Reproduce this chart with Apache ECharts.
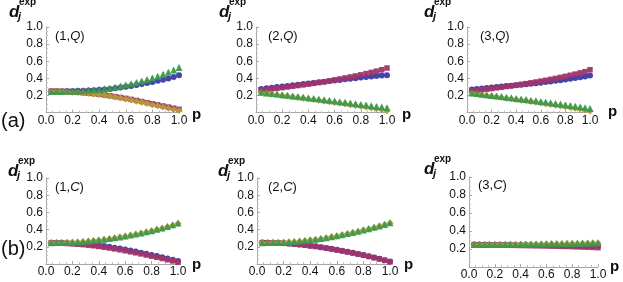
<!DOCTYPE html>
<html><head><meta charset="utf-8">
<script src="https://cdn.jsdelivr.net/npm/echarts@6/dist/echarts.min.js"></script>
<style>html,body{margin:0;padding:0;background:#fff}#c{width:623px;height:282px}</style>
</head><body><div id="c"></div>
<script>
// ---------- data ----------
const pValues = [0.04,0.08,0.12,0.16,0.20,0.24,0.28,0.32,0.36,0.40,0.44,0.48,0.52,0.56,0.60,0.64,0.68,0.72,0.76,0.80,0.84,0.88,0.92,0.96,1.00];
const xTicks = ['0.0','0.2','0.4','0.6','0.8','1.0'];
const yTicks = ['','0.2','0.4','0.6','0.8','1.0'];
const panelNumbers = ['1','2','3','1','2','3'];
const panelKinds = ['Q','Q','Q','C','C','C'];
const rowLabels = ['(a)','(b)'];
const seriesNames = ['j=1','j=2','j=3','j=4'];

// (1,Q)
const blue1Q    = [0.250,0.250,0.250,0.251,0.252,0.253,0.255,0.258,0.261,0.265,0.270,0.276,0.283,0.291,0.300,0.310,0.321,0.332,0.344,0.357,0.370,0.384,0.399,0.416,0.435];
const magenta1Q = [0.250,0.249,0.247,0.244,0.240,0.236,0.231,0.226,0.220,0.213,0.205,0.196,0.186,0.176,0.165,0.153,0.141,0.128,0.115,0.102,0.089,0.076,0.063,0.050,0.038];
const gold1Q    = [0.248,0.247,0.245,0.242,0.238,0.234,0.229,0.223,0.217,0.210,0.201,0.192,0.182,0.171,0.159,0.146,0.133,0.120,0.106,0.092,0.078,0.064,0.050,0.036,0.022];
const green1Q   = [0.245,0.246,0.247,0.248,0.250,0.252,0.255,0.259,0.264,0.270,0.278,0.287,0.297,0.309,0.322,0.336,0.351,0.367,0.385,0.404,0.424,0.446,0.470,0.496,0.525];
// (2,Q)
const blue2Q    = [0.276,0.283,0.290,0.297,0.304,0.311,0.318,0.325,0.332,0.339,0.346,0.353,0.360,0.367,0.374,0.381,0.388,0.395,0.402,0.409,0.416,0.422,0.428,0.432,0.435];
const magenta2Q = [0.262,0.269,0.276,0.283,0.291,0.299,0.307,0.315,0.323,0.332,0.341,0.350,0.360,0.370,0.381,0.392,0.404,0.416,0.428,0.441,0.455,0.469,0.484,0.500,0.520];
const gold2Q    = [0.232,0.224,0.216,0.208,0.200,0.192,0.184,0.176,0.168,0.159,0.151,0.143,0.134,0.126,0.117,0.108,0.099,0.090,0.081,0.072,0.063,0.054,0.045,0.034,0.020];
const green2Q   = [0.236,0.229,0.222,0.215,0.208,0.201,0.194,0.187,0.180,0.172,0.165,0.158,0.150,0.143,0.135,0.127,0.119,0.111,0.103,0.095,0.087,0.079,0.071,0.063,0.055];
// (3,Q)
const blue3Q    = [0.270,0.276,0.281,0.287,0.292,0.298,0.303,0.309,0.314,0.320,0.325,0.331,0.337,0.343,0.349,0.356,0.363,0.370,0.378,0.386,0.394,0.403,0.412,0.422,0.432];
const magenta3Q = [0.252,0.259,0.266,0.273,0.280,0.288,0.296,0.304,0.312,0.320,0.329,0.338,0.347,0.357,0.367,0.377,0.388,0.399,0.411,0.423,0.436,0.449,0.463,0.478,0.500];
const gold3Q    = [0.224,0.216,0.208,0.200,0.192,0.184,0.176,0.168,0.160,0.152,0.144,0.136,0.128,0.120,0.112,0.103,0.094,0.085,0.076,0.067,0.058,0.049,0.040,0.030,0.018];
const green3Q   = [0.228,0.221,0.214,0.207,0.200,0.193,0.186,0.179,0.172,0.165,0.158,0.151,0.144,0.137,0.130,0.122,0.114,0.106,0.098,0.090,0.082,0.074,0.066,0.057,0.048];
// (1,C)
const blue1C    = [0.248,0.247,0.246,0.244,0.242,0.239,0.235,0.230,0.224,0.217,0.209,0.200,0.190,0.179,0.168,0.156,0.144,0.131,0.118,0.105,0.092,0.078,0.064,0.050,0.035];
const magenta1C = [0.245,0.243,0.241,0.238,0.234,0.230,0.225,0.219,0.212,0.204,0.195,0.186,0.176,0.165,0.154,0.142,0.130,0.117,0.104,0.091,0.078,0.064,0.050,0.036,0.020];
const gold1C    = [0.246,0.247,0.248,0.250,0.252,0.255,0.259,0.264,0.270,0.277,0.285,0.294,0.303,0.313,0.324,0.335,0.347,0.359,0.372,0.386,0.400,0.416,0.432,0.451,0.471];
const green1C   = [0.248,0.249,0.250,0.252,0.254,0.257,0.261,0.266,0.272,0.279,0.287,0.296,0.305,0.315,0.326,0.337,0.349,0.361,0.374,0.388,0.403,0.419,0.436,0.455,0.476];
// (2,C)
const blue2C    = [0.249,0.248,0.247,0.245,0.242,0.238,0.233,0.227,0.221,0.213,0.205,0.196,0.186,0.176,0.165,0.154,0.142,0.130,0.117,0.104,0.090,0.076,0.061,0.045,0.028];
const magenta2C = [0.248,0.247,0.246,0.244,0.241,0.237,0.232,0.226,0.219,0.211,0.203,0.194,0.184,0.174,0.163,0.152,0.140,0.128,0.115,0.102,0.088,0.074,0.059,0.043,0.025];
const gold2C    = [0.247,0.248,0.249,0.251,0.253,0.256,0.260,0.265,0.271,0.278,0.286,0.295,0.305,0.316,0.327,0.339,0.352,0.365,0.379,0.394,0.409,0.425,0.441,0.458,0.477];
const green2C   = [0.248,0.249,0.250,0.252,0.254,0.257,0.261,0.266,0.272,0.279,0.287,0.296,0.306,0.317,0.329,0.341,0.354,0.367,0.381,0.396,0.411,0.427,0.443,0.460,0.480];
// (3,C)
const blue3C    = [0.249,0.249,0.248,0.248,0.247,0.247,0.246,0.246,0.245,0.245,0.244,0.244,0.243,0.242,0.242,0.241,0.240,0.240,0.239,0.238,0.237,0.236,0.235,0.234,0.233];
const magenta3C = [0.248,0.247,0.246,0.245,0.244,0.243,0.242,0.241,0.240,0.239,0.238,0.237,0.236,0.235,0.234,0.232,0.231,0.229,0.228,0.226,0.224,0.222,0.220,0.218,0.215];
const gold3C    = [0.249,0.249,0.249,0.249,0.250,0.250,0.250,0.251,0.251,0.252,0.252,0.253,0.254,0.255,0.256,0.257,0.258,0.259,0.260,0.261,0.262,0.263,0.265,0.266,0.267];
const green3C   = [0.250,0.250,0.250,0.250,0.251,0.251,0.251,0.252,0.252,0.253,0.253,0.254,0.255,0.256,0.257,0.258,0.259,0.260,0.261,0.262,0.264,0.265,0.267,0.268,0.270];
// error bars of the green (j=4) series in the Q panels
const errGreen1Q = [0.004,0.004,0.005,0.005,0.006,0.006,0.007,0.008,0.008,0.009,0.010,0.010,0.011,0.012,0.012,0.013,0.014,0.014,0.015,0.016,0.016,0.017,0.018,0.018,0.019];
const errGreen2Q = [0.004,0.004,0.005,0.005,0.006,0.006,0.007,0.007,0.008,0.008,0.009,0.009,0.010,0.010,0.011,0.011,0.012,0.012,0.013,0.013,0.014,0.014,0.015,0.015,0.016];
const errGreen3Q = [0.004,0.004,0.005,0.005,0.006,0.006,0.007,0.007,0.008,0.008,0.009,0.009,0.010,0.010,0.011,0.011,0.012,0.012,0.013,0.013,0.014,0.014,0.015,0.015,0.016];

const panelData = [
  [blue1Q, magenta1Q, gold1Q, green1Q],
  [blue2Q, magenta2Q, gold2Q, green2Q],
  [blue3Q, magenta3Q, gold3Q, green3Q],
  [blue1C, magenta1C, gold1C, green1C],
  [blue2C, magenta2C, gold2C, green2C],
  [blue3C, magenta3C, gold3C, green3C]
];
const panelErrors = [errGreen1Q, errGreen2Q, errGreen3Q, null, null, null];

// ---------- layout & style ----------
// [x of p=0, x of p=1, y of d=0, y of d=1]
const boxes = [
  [46,179,112.5,27],[256,387,112.5,27],[467,590,112.5,27],
  [46,178,264,178],[257,390,264,178],[469,598,267,177]
];
const colors = ['#3a3aa4','#a0346c','#b89a38','#3c9a4b'];
const symbols = ['circle','rect','diamond','triangle'];
const sizes = [6,5.5,7,7];
const errColor = '#9fd3a9';
const axisGray = '#a8a8a8';
const FONT = '"Liberation Sans", Arial, sans-serif';

const grids=[], xAxes=[], yAxes=[], series=[], graphic=[];
boxes.forEach((b,i)=>{
  grids.push({left:b[0], top:b[3], width:b[1]-b[0], height:b[2]-b[3], containLabel:false});
  xAxes.push({type:'value', gridIndex:i, min:0, max:1, interval:0.2,
    axisLine:{show:true, onZero:false, lineStyle:{color:axisGray, width:1}},
    axisTick:{show:true, inside:true, length:3, lineStyle:{color:axisGray}},
    minorTick:{show:true, splitNumber:4, length:2, lineStyle:{color:'#c4c4c4'}},
    splitLine:{show:false},
    axisLabel:{margin:2, color:'#111', fontFamily:FONT, fontSize:12,
      formatter:v=>xTicks[Math.round(v/0.2)]}
  });
  yAxes.push({type:'value', gridIndex:i, min:0, max:1, interval:0.2,
    axisLine:{show:true, lineStyle:{color:axisGray, width:1}},
    axisTick:{show:true, inside:true, length:3, lineStyle:{color:axisGray}},
    minorTick:{show:true, splitNumber:4, length:2, lineStyle:{color:'#c4c4c4'}},
    splitLine:{show:false},
    axisLabel:{margin:3, color:'#111', fontFamily:FONT, fontSize:12,
      formatter:v=>yTicks[Math.round(v/0.2)]}
  });
  const data = panelData[i];
  for (let s=0;s<4;s++){
    if (s===3 && panelErrors[i]){
      const err = panelErrors[i];
      series.push({type:'custom', xAxisIndex:i, yAxisIndex:i, silent:true, z:2,
        data: pValues.map((p,k)=>[p, data[3][k], err[k]]),
        renderItem:(params, api)=>{
          const x=api.value(0), y=api.value(1), e=api.value(2);
          const t=api.coord([x,y+e]), bt=api.coord([x,y-e]);
          const st={stroke:errColor, lineWidth:1};
          return {type:'group', children:[
            {type:'line', shape:{x1:t[0],y1:t[1],x2:bt[0],y2:bt[1]}, style:st},
            {type:'line', shape:{x1:t[0]-1.5,y1:t[1],x2:t[0]+1.5,y2:t[1]}, style:st},
            {type:'line', shape:{x1:bt[0]-1.5,y1:bt[1],x2:bt[0]+1.5,y2:bt[1]}, style:st}
          ]};
        }
      });
    }
    series.push({type:'scatter', name:seriesNames[s], xAxisIndex:i, yAxisIndex:i,
      symbol:symbols[s], symbolSize:sizes[s], z:3+s,
      itemStyle:{color:colors[s], opacity:0.95},
      data: pValues.map((p,k)=>[p, data[s][k]])
    });
  }
});

// text decorations
const titleOffsets = [[9,0],[219,0],[424,0],[8,159],[218,159],[424,157]];
titleOffsets.forEach(o=>{
  graphic.push({type:'text', x:o[0], y:o[1]+12, style:{text:'d', font:'italic bold 17px '+FONT, fill:'#111', verticalAlign:'middle'}});
  graphic.push({type:'text', x:o[0]+10, y:o[1]+2.5, style:{text:'exp', font:'bold 10px '+FONT, fill:'#111', verticalAlign:'middle'}});
  graphic.push({type:'text', x:o[0]+9, y:o[1]+17, style:{text:'j', font:'italic bold 11px '+FONT, fill:'#111', verticalAlign:'middle'}});
});
const pPos = [[192,115],[402,115],[608,112],[192,265],[404,265],[610,267]];
pPos.forEach(o=>graphic.push({type:'text', x:o[0], y:o[1], style:{text:'p', font:'bold 15px '+FONT, fill:'#111', verticalAlign:'middle'}}));
const namePos = [[55,36],[268,36],[480,36],[55,187],[268,187],[478,185]];
namePos.forEach((o,i)=>graphic.push({type:'text', x:o[0], y:o[1], style:{
  text:'{n|('+panelNumbers[i]+',}{i|'+panelKinds[i]+'}{n|)}', verticalAlign:'middle',
  rich:{n:{font:'13px '+FONT, fill:'#111'}, i:{font:'italic 13px '+FONT, fill:'#111'}}}}));
const rowPos = [[1,121],[1,249]];
rowLabels.forEach((t,i)=>graphic.push({type:'text', x:rowPos[i][0], y:rowPos[i][1], style:{text:t, font:'20px '+FONT, fill:'#111', verticalAlign:'middle'}}));

const chart = echarts.init(document.getElementById('c'), null, {renderer:'canvas'});
chart.setOption({animation:false, backgroundColor:'#fff', grid:grids, xAxis:xAxes, yAxis:yAxes, series:series, graphic:graphic});
</script></body></html>
